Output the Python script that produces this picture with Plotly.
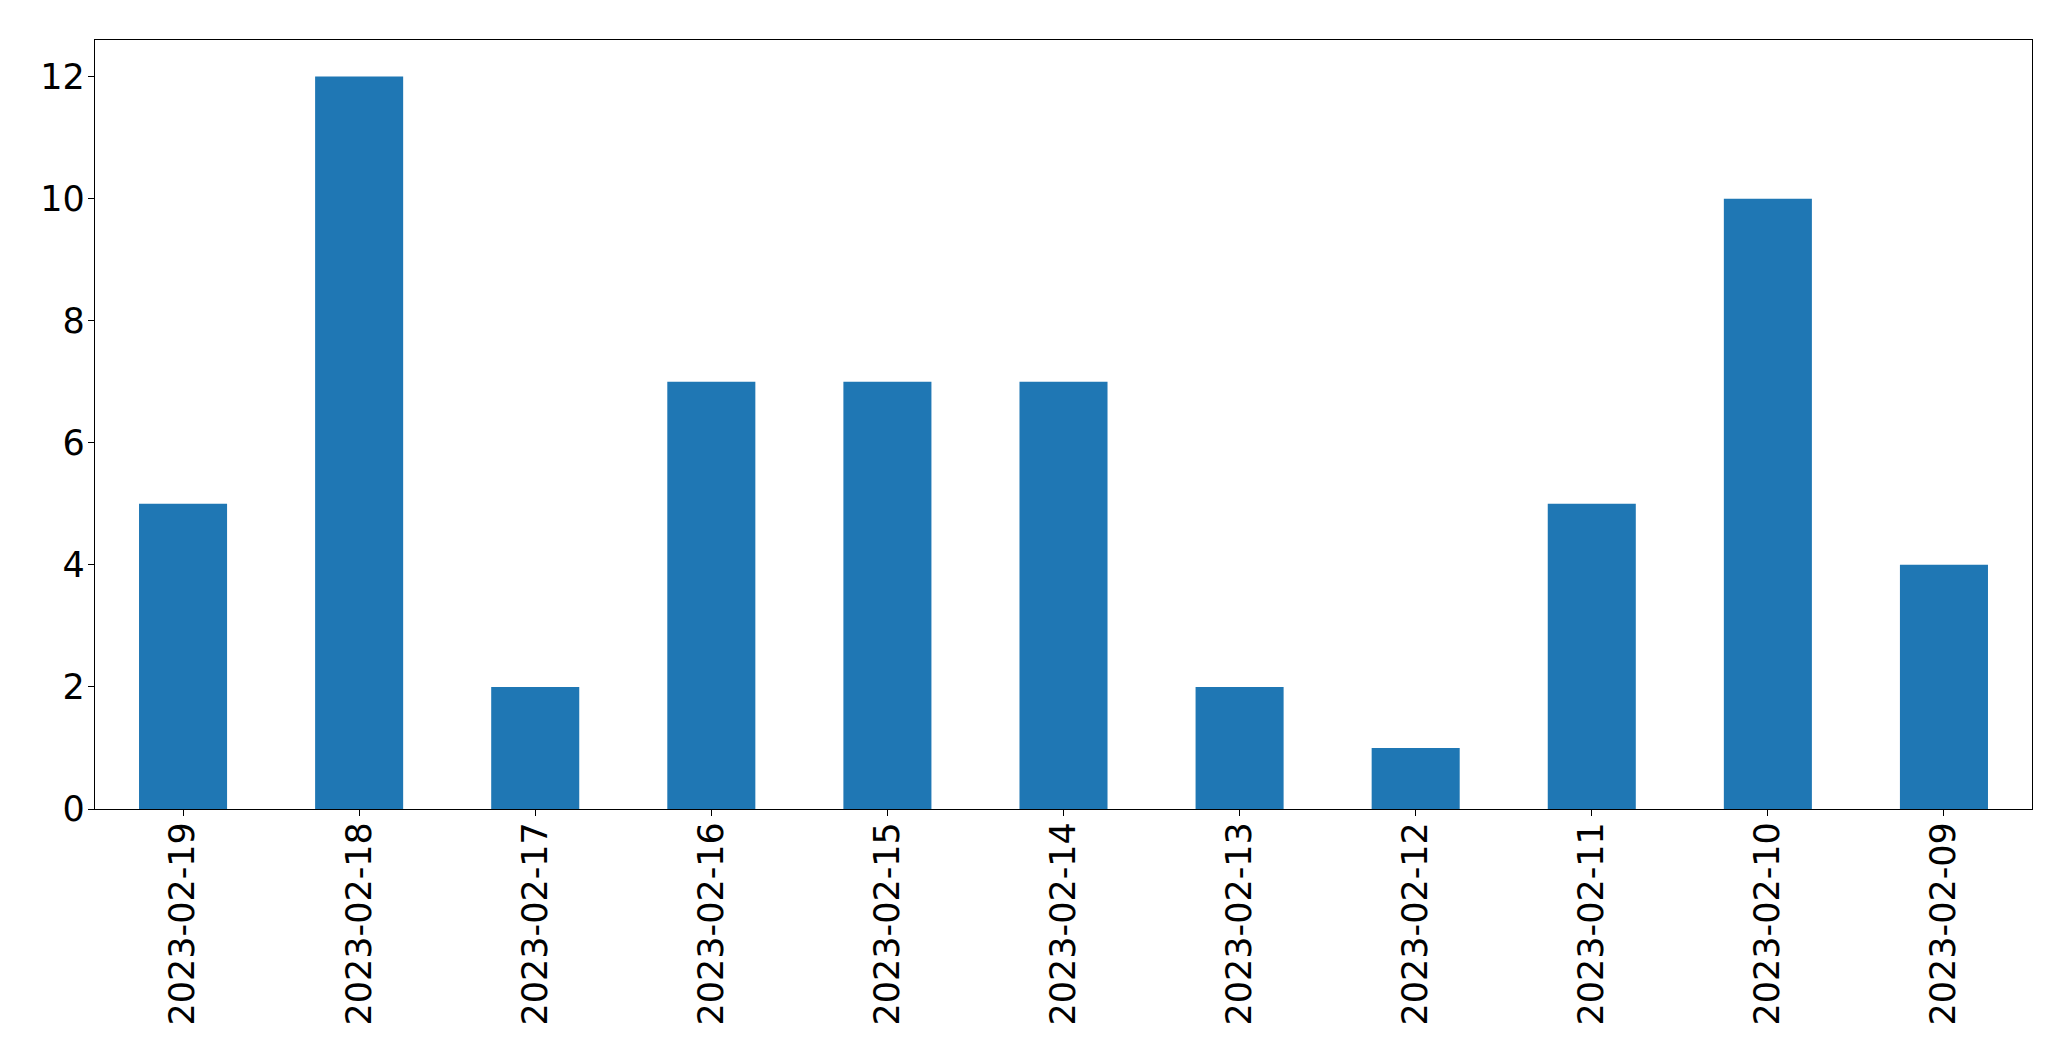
import plotly.graph_objects as go

dates = ["2023-02-19", "2023-02-18", "2023-02-17", "2023-02-16", "2023-02-15",
         "2023-02-14", "2023-02-13", "2023-02-12", "2023-02-11", "2023-02-10", "2023-02-09"]
counts = [5, 12, 2, 7, 7, 7, 2, 1, 5, 10, 4]
y_ticks = [0, 2, 4, 6, 8, 10, 12]

fig = go.Figure(go.Bar(x=dates, y=counts, marker_color="#1f77b4", marker_line_width=0, width=0.5))

font = dict(family="DejaVu Sans", size=35, color="black")
fig.update_layout(
    width=2071, height=1061,
    margin=dict(l=87, r=47, t=32, b=260),
    paper_bgcolor="white", plot_bgcolor="white",
    showlegend=False,
    bargap=0.5,
)
fig.update_xaxes(
    type="category", range=[-0.5, 10.5], tickangle=-90, tickfont=font,
    showline=True, mirror=True, linecolor="black", linewidth=1.3,
    ticks="outside", ticklen=6, tickcolor="black", showgrid=False,
    ticklabelstandoff=-8,
)
fig.update_yaxes(
    range=[0, 12.6], tickvals=y_ticks, tickfont=font,
    showline=True, mirror=True, linecolor="black", linewidth=1.3,
    ticks="outside", ticklen=6, tickcolor="black", showgrid=False, zeroline=False,
    ticklabelstandoff=-4,
)
fig.write_html("out.html")
